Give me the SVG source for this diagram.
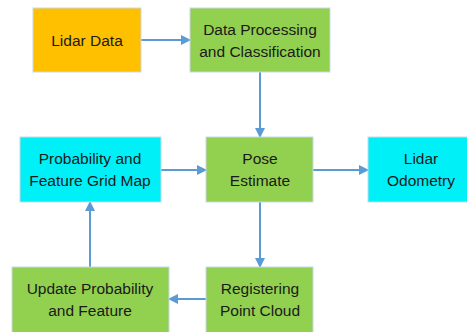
<svg xmlns="http://www.w3.org/2000/svg" width="467" height="332" viewBox="0 0 467 332">
<defs>
<style>
.n{stroke:#c9d7e8;stroke-width:1}
.t{font-family:"Liberation Sans",Arial,sans-serif;font-size:15.5px;fill:#1a1a1a;text-anchor:middle}
.c{stroke:#5b9bd5;stroke-width:2;fill:none;marker-end:url(#ah)}
</style>
<marker id="ah" viewBox="0 0 10 10" refX="9" refY="5" markerWidth="5" markerHeight="5" orient="auto" markerUnits="strokeWidth">
<path d="M0,0 L10,5 L0,10 z" fill="#5b9bd5"/>
</marker>
</defs>
<rect width="467" height="332" fill="#fff"/>
<g id="connectors">
<line class="c" x1="141" y1="40" x2="190" y2="40"/>
<line class="c" x1="260" y1="72" x2="260" y2="137"/>
<line class="c" x1="161" y1="170" x2="206" y2="170"/>
<line class="c" x1="313" y1="170" x2="368" y2="170"/>
<line class="c" x1="260" y1="202" x2="260" y2="267"/>
<line class="c" x1="206" y1="299" x2="169" y2="299"/>
<line class="c" x1="90" y1="267" x2="90" y2="202"/>
</g>
<g id="lidar-data">
<rect class="n" x="33" y="8" width="108" height="64" fill="#ffc000"/>
<text class="t" x="87" y="46">Lidar Data</text>
</g>
<g id="data-processing">
<rect class="n" x="190" y="8" width="140" height="64" fill="#92d050"/>
<text class="t" x="260" y="35">Data Processing</text>
<text class="t" x="260" y="57">and Classification</text>
</g>
<g id="prob-grid-map">
<rect class="n" x="20" y="137" width="141" height="65" fill="#00f0f8"/>
<text class="t" x="90" y="164">Probability and</text>
<text class="t" x="90" y="186">Feature Grid Map</text>
</g>
<g id="pose-estimate">
<rect class="n" x="206" y="137" width="107" height="65" fill="#92d050"/>
<text class="t" x="260" y="164">Pose</text>
<text class="t" x="260" y="186">Estimate</text>
</g>
<g id="lidar-odometry">
<rect class="n" x="368" y="137" width="100" height="65" fill="#00f0f8"/>
<text class="t" x="421" y="164">Lidar</text>
<text class="t" x="421" y="186">Odometry</text>
</g>
<g id="update-prob">
<rect class="n" x="12" y="267" width="157" height="66" fill="#92d050"/>
<text class="t" x="90" y="294">Update Probability</text>
<text class="t" x="90" y="316">and Feature</text>
</g>
<g id="registering">
<rect class="n" x="206" y="267" width="107" height="66" fill="#92d050"/>
<text class="t" x="260" y="294">Registering</text>
<text class="t" x="260" y="316">Point Cloud</text>
</g>
</svg>
